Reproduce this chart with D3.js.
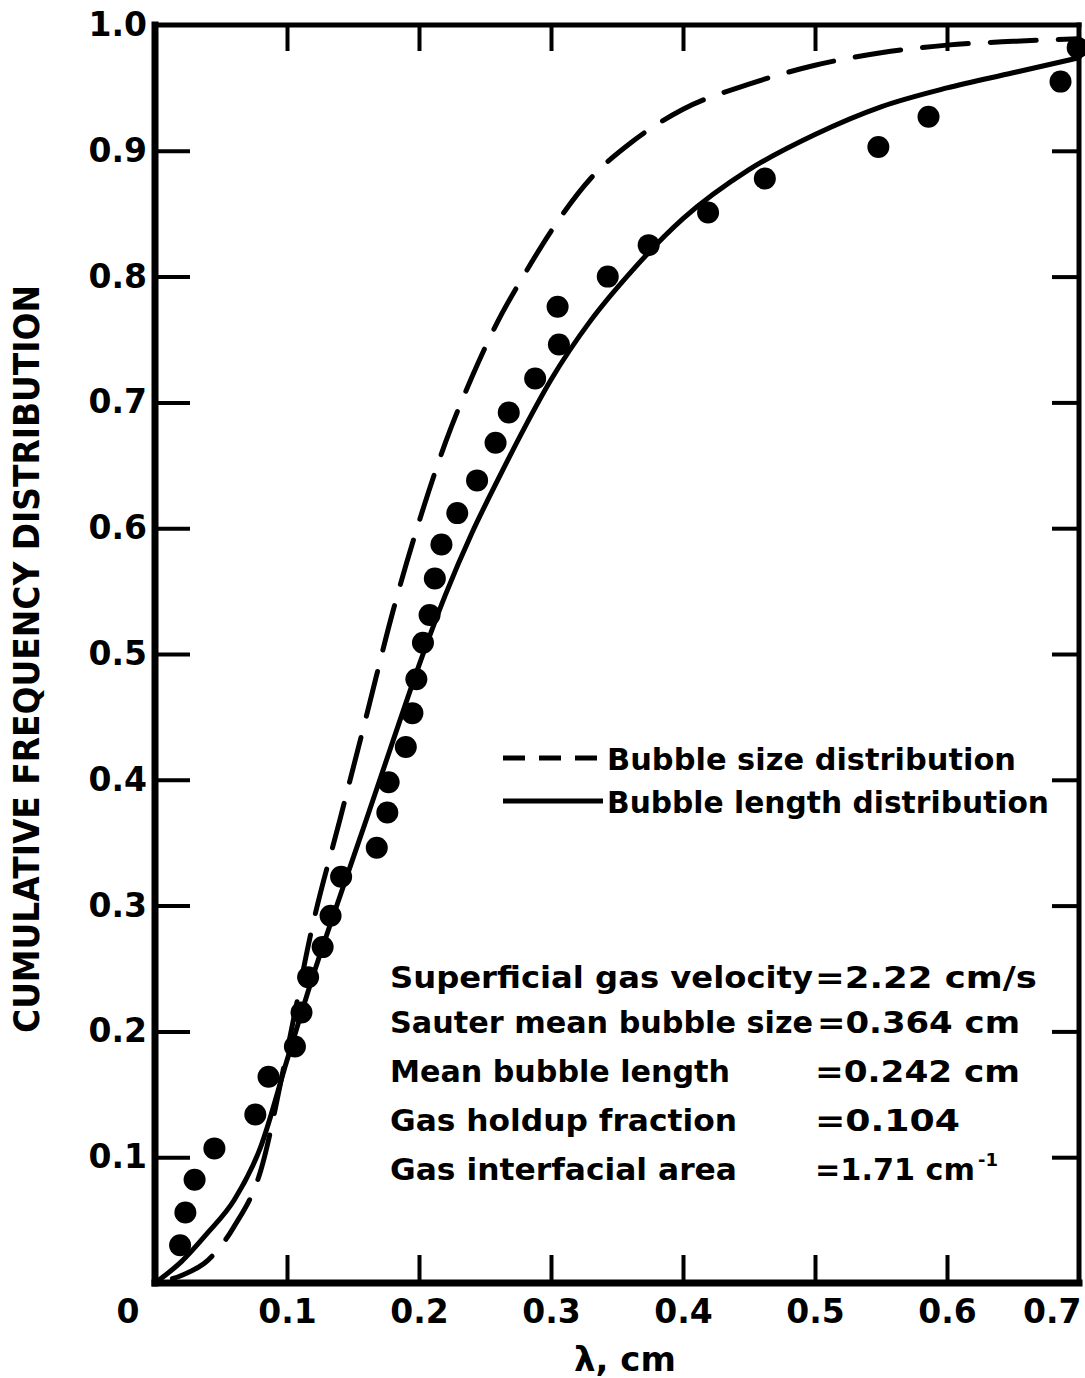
<!DOCTYPE html>
<html><head><meta charset="utf-8">
<script src="https://cdn.jsdelivr.net/npm/d3@7"></script>
<style>body{margin:0;background:#fff} svg{display:block}</style>
</head><body>
<svg id="c" width="1085" height="1378"></svg>
<script>
// ---- data ----
const xTickValues = [0.1, 0.2, 0.3, 0.4, 0.5, 0.6, 0.7];
const xTickLabels = ["0.1", "0.2", "0.3", "0.4", "0.5", "0.6", "0.7"];
const yTickValues = [0.1, 0.2, 0.3, 0.4, 0.5, 0.6, 0.7, 0.8, 0.9, 1.0];
const yTickLabels = ["0.1", "0.2", "0.3", "0.4", "0.5", "0.6", "0.7", "0.8", "0.9", "1.0"];

// Bubble size distribution (dashed)
const sizeX = [0, 0.02, 0.04, 0.06, 0.08, 0.10, 0.12, 0.14, 0.16, 0.18, 0.20, 0.22, 0.24, 0.26, 0.28, 0.30, 0.33, 0.36, 0.40, 0.45, 0.50, 0.55, 0.60, 0.65, 0.70];
const sizeY = [0, 0.006, 0.018, 0.045, 0.089, 0.184, 0.287, 0.368, 0.450, 0.533, 0.605, 0.668, 0.720, 0.765, 0.802, 0.836, 0.878, 0.906, 0.933, 0.953, 0.968, 0.978, 0.984, 0.987, 0.989];

// Bubble length distribution (solid)
const lengthX = [0, 0.02, 0.04, 0.06, 0.08, 0.10, 0.12, 0.14, 0.16, 0.18, 0.20, 0.22, 0.24, 0.26, 0.28, 0.30, 0.33, 0.36, 0.40, 0.45, 0.50, 0.55, 0.60, 0.65, 0.70];
const lengthY = [0, 0.017, 0.040, 0.066, 0.108, 0.177, 0.245, 0.307, 0.368, 0.430, 0.491, 0.547, 0.596, 0.639, 0.680, 0.718, 0.765, 0.803, 0.846, 0.885, 0.913, 0.935, 0.950, 0.962, 0.974];

// measured points
const dataX = [0.019, 0.023, 0.030, 0.045, 0.076, 0.086, 0.106, 0.111, 0.116, 0.127, 0.133, 0.141, 0.168, 0.176, 0.177, 0.190, 0.195, 0.198, 0.203, 0.208, 0.212, 0.217, 0.229, 0.244, 0.258, 0.268, 0.288, 0.306, 0.305, 0.343, 0.374, 0.419, 0.462, 0.548, 0.586, 0.686, 0.699];
const dataY = [0.030, 0.056, 0.082, 0.107, 0.134, 0.164, 0.188, 0.215, 0.243, 0.267, 0.292, 0.323, 0.346, 0.374, 0.398, 0.426, 0.453, 0.480, 0.509, 0.531, 0.560, 0.587, 0.612, 0.638, 0.668, 0.692, 0.719, 0.746, 0.776, 0.800, 0.825, 0.851, 0.878, 0.903, 0.927, 0.955, 0.982];

const legendLabels = ["Bubble size distribution", "Bubble length distribution"];
const infoLabels = ["Superficial gas velocity", "Sauter mean bubble size", "Mean bubble length", "Gas holdup fraction", "Gas interfacial area"];
const infoValues = ["=2.22 cm/s", "=0.364 cm", "=0.242 cm", "=0.104", "=1.71 cm"];
const xTitle = "λ, cm";
const yTitle = "CUMULATIVE FREQUENCY DISTRIBUTION";

// ---- drawing ----
(function () {
const svg = d3.select("#c");
const FONT = "'DejaVu Sans', sans-serif";
const x = d3.scaleLinear().domain([0, 0.7]).range([155, 1079]);
const y = d3.scaleLinear().domain([0, 1]).range([1283, 25]);

function styleAxis(g) {
  g.select(".domain").remove();
  g.selectAll(".tick line").attr("stroke", "#000").attr("stroke-width", 4);
}
const gBottom = svg.append("g").attr("transform", `translate(0,${y(0)})`)
  .call(d3.axisBottom(x).tickValues(xTickValues).tickSize(-28).tickPadding(17)
    .tickFormat((d, i) => xTickLabels[i]));
styleAxis(gBottom);
gBottom.selectAll("text").attr("font-family", FONT).attr("font-weight", "bold")
  .attr("font-size", 33).attr("fill", "#000");
gBottom.selectAll(".tick").filter(d => d === 0.7).select("text")
  .attr("text-anchor", "end").attr("x", 2);
gBottom.selectAll(".tick").filter(d => d === 0.7).select("line").remove();

const gTop = svg.append("g").attr("transform", `translate(0,${y(1)})`)
  .call(d3.axisTop(x).tickValues(xTickValues.slice(0, 6)).tickSize(-26).tickFormat(""));
styleAxis(gTop);

const gLeft = svg.append("g").attr("transform", `translate(${x(0)},0)`)
  .call(d3.axisLeft(y).tickValues(yTickValues).tickSize(-35).tickPadding(8)
    .tickFormat((d, i) => yTickLabels[i]));
styleAxis(gLeft);
gLeft.selectAll("text").attr("font-family", FONT).attr("font-weight", "bold")
  .attr("font-size", 33).attr("fill", "#000");
gLeft.selectAll(".tick").filter(d => d === 1.0).select("line").remove();

const gRight = svg.append("g").attr("transform", `translate(${x(0.7)},0)`)
  .call(d3.axisRight(y).tickValues(yTickValues.slice(0, 9)).tickSize(-27).tickFormat(""));
styleAxis(gRight);

// frame
const frame = svg.append("g").attr("stroke", "#000").attr("stroke-linecap", "square");
frame.append("line").attr("x1", x(0)).attr("x2", x(0)).attr("y1", y(0)).attr("y2", y(1)).attr("stroke-width", 7);
frame.append("line").attr("x1", x(0)).attr("x2", x(0.7)).attr("y1", y(0)).attr("y2", y(0)).attr("stroke-width", 7);
frame.append("line").attr("x1", x(0)).attr("x2", x(0.7)).attr("y1", y(1)).attr("y2", y(1)).attr("stroke-width", 5);
frame.append("line").attr("x1", x(0.7)).attr("x2", x(0.7)).attr("y1", y(0)).attr("y2", y(1)).attr("stroke-width", 5);

// origin label
svg.append("text").attr("x", 128).attr("y", y(0) + 17).attr("dy", "0.71em")
  .attr("text-anchor", "middle").attr("font-family", FONT).attr("font-weight", "bold")
  .attr("font-size", 33).text("0");

// curves
const line = d3.line().x(d => x(d[0])).y(d => y(d[1])).curve(d3.curveMonotoneX);
svg.append("path").datum(sizeX.map((v, i) => [v, sizeY[i]]))
  .attr("d", line).attr("fill", "none").attr("stroke", "#000").attr("stroke-width", 5)
  .attr("stroke-dasharray", "46 22").attr("stroke-linecap", "round").attr("stroke-dashoffset", -18);
svg.append("path").datum(lengthX.map((v, i) => [v, lengthY[i]]))
  .attr("d", line).attr("fill", "none").attr("stroke", "#000").attr("stroke-width", 5)
  .attr("stroke-linecap", "round");

// points
svg.append("g").selectAll("circle").data(dataX.map((v, i) => [v, dataY[i]]))
  .join("circle").attr("cx", d => x(d[0])).attr("cy", d => y(d[1])).attr("r", 11).attr("fill", "#000");

// legend
const lg = svg.append("g");
lg.append("line").attr("x1", 503).attr("x2", 598).attr("y1", 758).attr("y2", 758)
  .attr("stroke", "#000").attr("stroke-width", 5).attr("stroke-dasharray", "22 14");
lg.append("line").attr("x1", 503).attr("x2", 603).attr("y1", 801).attr("y2", 801)
  .attr("stroke", "#000").attr("stroke-width", 5);
lg.selectAll("text").data(legendLabels).join("text")
  .attr("x", 607).attr("y", (d, i) => 770 + i * 43)
  .attr("font-family", FONT).attr("font-weight", "bold").attr("font-size", 31)
  .attr("textLength", (d, i) => i === 0 ? 409 : 442).attr("lengthAdjust", "spacingAndGlyphs")
  .text(d => d);

// info block
const info = svg.append("g").attr("font-family", FONT).attr("font-weight", "bold").attr("font-size", 31);
const labelLens = [423, 423, 340, 347, 347];
const valueX = [815, 817, 815, 815, 815];
const valueLens = [222, 203, 205, 145, 160];
const baseY = [988, 1033, 1082, 1131, 1180];
infoLabels.forEach((t, i) => {
  info.append("text").attr("x", 390).attr("y", baseY[i])
    .attr("textLength", labelLens[i]).attr("lengthAdjust", "spacingAndGlyphs").text(t);
  info.append("text").attr("x", valueX[i]).attr("y", baseY[i])
    .attr("textLength", valueLens[i]).attr("lengthAdjust", "spacingAndGlyphs").text(infoValues[i]);
});
info.append("text").attr("x", 978).attr("y", baseY[4] - 14).attr("font-size", 18).text("-1");

// titles
svg.append("text").attr("x", 625).attr("y", 1371).attr("text-anchor", "middle")
  .attr("font-family", FONT).attr("font-weight", "bold").attr("font-size", 34).text(xTitle);
svg.append("text").attr("transform", "translate(39,659) rotate(-90)")
  .attr("text-anchor", "middle").attr("font-family", FONT).attr("font-weight", "bold")
  .attr("font-size", 36).attr("textLength", 748).attr("lengthAdjust", "spacingAndGlyphs").text(yTitle);
})();
</script>
</body></html>
